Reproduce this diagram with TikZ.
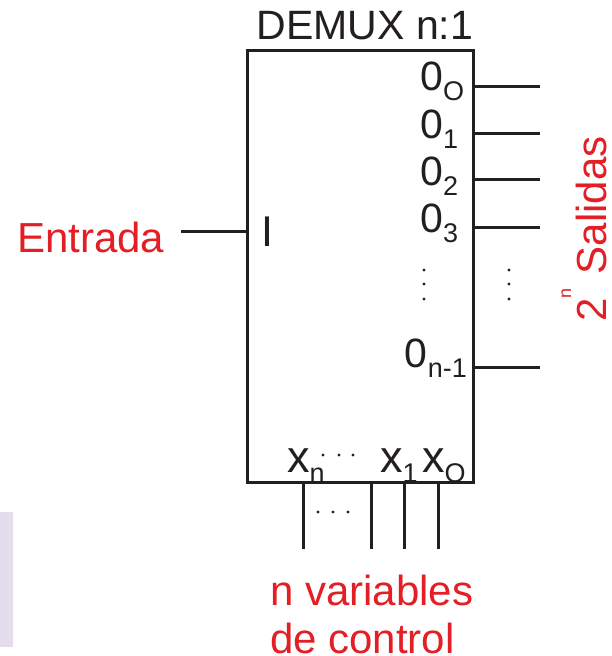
\documentclass[tikz,border=0pt]{standalone}
\usepackage{fontspec}
\setmainfont{Liberation Sans}
\usepackage{tikz}
\usetikzlibrary{positioning,calc}
\definecolor{demuxred}  {RGB}{227, 30, 36}
\definecolor{wiregray}  {RGB}{ 35, 31, 32}
\definecolor{lightlilac}{RGB}{228,222,236}
\newcommand{\lowsub}[1]{\raisebox{-10pt}{\fontsize{27}{27}\selectfont #1}}
\newcommand{\highsup}[1]{\raisebox{35pt}{\fontsize{18}{18}\selectfont #1}}

\begin{document}
\begin{tikzpicture}[x=1pt,y=-1pt,
  every node/.style={inner sep=0pt,font=\fontsize{41}{48}\selectfont},
  blk/.style={draw=wiregray,line width=3pt,minimum width=226pt,minimum height=432pt},
  wire/.style={draw=wiregray,line width=3pt},
  lbl/.style={text=wiregray},
  redlbl/.style={text=demuxred,font=\fontsize{42}{48}\selectfont},
]
\useasboundingbox (0,0) rectangle (612,656);

%% ── Side strip ───────────────────────────────────────────────────────────
\fill[lightlilac] (0,512) rectangle (13,647);

%% ── DEMUX block ──────────────────────────────────────────────────────────
\node[blk] (demux) at (360.5,266) {};
\node[lbl,anchor=base] (title) at (365,39) {DEMUX n:1};

%% ── Input ────────────────────────────────────────────────────────────────
\node[redlbl,anchor=base west] (entrada) at (17,252) {Entrada};
\node[lbl,anchor=base west,font=\fontsize{43}{48}\selectfont] (inI) at (261,246) {I};
\coordinate (inp) at (181,231);
\draw[wire] (inp) -- (inp -| demux.west);

%% ── Outputs ──────────────────────────────────────────────────────────────
\foreach \idx/\yb/\yw [count=\k] in {O/90/86, 1/138/133, 2/185/179, 3/232/227} {
  \node[lbl,anchor=base west] (out\k) at (420,\yb) {0\lowsub{\idx}};
  \coordinate (o\k) at (540,\yw);
  \draw[wire] (demux.east |- o\k) -- (o\k);
}
\node[lbl,anchor=base east] (outn) at (467,367) {0\lowsub{n-1}};
\coordinate (on) at (540,367);
\draw[wire] (demux.east |- on) -- (on);

%% vertical dots, inside and outside the block
\foreach \yy in {270,284,299} {
  \fill[wiregray] (424,\yy) circle (1.6);
  \fill[wiregray] (509,\yy) circle (1.6);
}

\node[redlbl,rotate=90,anchor=base] (salidas) at (606,229) {2\highsup{n}\hspace{2pt} Salidas};

%% ── Control inputs ───────────────────────────────────────────────────────
\node[lbl,anchor=base west,font=\fontsize{45}{48}\selectfont] (xn) at (287,472) {x\lowsub{n}};
\node[lbl,anchor=base west,font=\fontsize{45}{48}\selectfont] (x1) at (380,472) {x\lowsub{1}};
\node[lbl,anchor=base west,font=\fontsize{45}{48}\selectfont] (xO) at (422,472) {x\lowsub{O}};
\foreach \xx in {323,339,353} {
  \fill[wiregray] (\xx,455) circle (1.6);
}

\foreach \xx [count=\k] in {303,371,404,438} {
  \coordinate (c\k) at (\xx,549);
  \draw[wire] (c\k |- demux.south) -- (c\k);
}
\foreach \xx in {318,333,348} {
  \fill[wiregray] (\xx,512) circle (1.6);
}

\node[redlbl,anchor=base west,align=left] (ctl) at (270,653) {n variables\\de control};

\end{tikzpicture}
\end{document}
